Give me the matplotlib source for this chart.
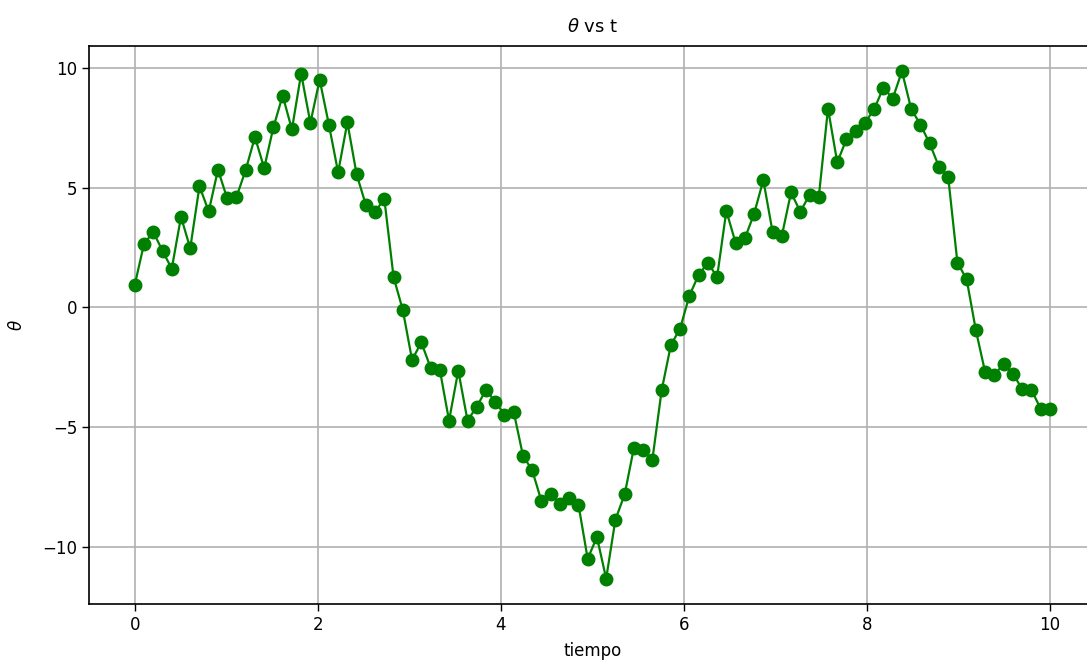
import numpy as np
import matplotlib
matplotlib.use("Agg")
import matplotlib.pyplot as plt

# theta values, 100 samples over t in [0, 10]
t = np.linspace(0, 10, 100)
theta = [
    0.95, 2.66, 3.16, 2.37, 1.62, 3.79, 2.48, 5.07, 4.02, 5.76,
    4.56, 4.62, 5.75, 7.13, 5.83, 7.54, 8.86, 7.45, 9.78, 7.72,
    9.53, 7.65, 5.65, 7.74, 5.57, 4.29, 4.01, 4.54, 1.27, -0.11,
    -2.19, -1.46, -2.51, -2.60, -4.73, -2.64, -4.73, -4.15, -3.44, -3.95,
    -4.48, -4.37, -6.20, -6.81, -8.10, -7.82, -8.20, -7.96, -8.24, -10.51,
    -9.60, -11.34, -8.87, -7.82, -5.87, -5.94, -6.36, -3.47, -1.57, -0.88,
    0.49, 1.36, 1.88, 1.27, 4.04, 2.71, 2.89, 3.91, 5.33, 3.17,
    2.99, 4.81, 4.01, 4.70, 4.61, 8.32, 6.07, 7.04, 7.38, 7.72,
    8.30, 9.20, 8.74, 9.88, 8.30, 7.65, 6.86, 5.89, 5.47, 1.88,
    1.18, -0.96, -2.70, -2.81, -2.37, -2.77, -3.40, -3.44, -4.23, -4.23,
]

fig = plt.figure(figsize=(10.87, 6.66), dpi=100)
ax = fig.add_axes([0.0819, 0.0931, 0.926, 0.838])

ax.plot(t, theta, color="green", marker="o", markersize=9, linewidth=1.6)
ax.grid(True, color="#b0b0b0", linewidth=1.2)
ax.set_axisbelow(True)

ax.set_title(r"$\theta$ vs t", fontsize=13, pad=10)
ax.set_xlabel("tiempo", fontsize=12, labelpad=6)
ax.set_ylabel(r"$\theta$", fontsize=12, labelpad=12)
ax.tick_params(labelsize=12, width=1, length=5)
for s in ax.spines.values():
    s.set_linewidth(1.2)

fig.savefig("out.png", dpi=100)
